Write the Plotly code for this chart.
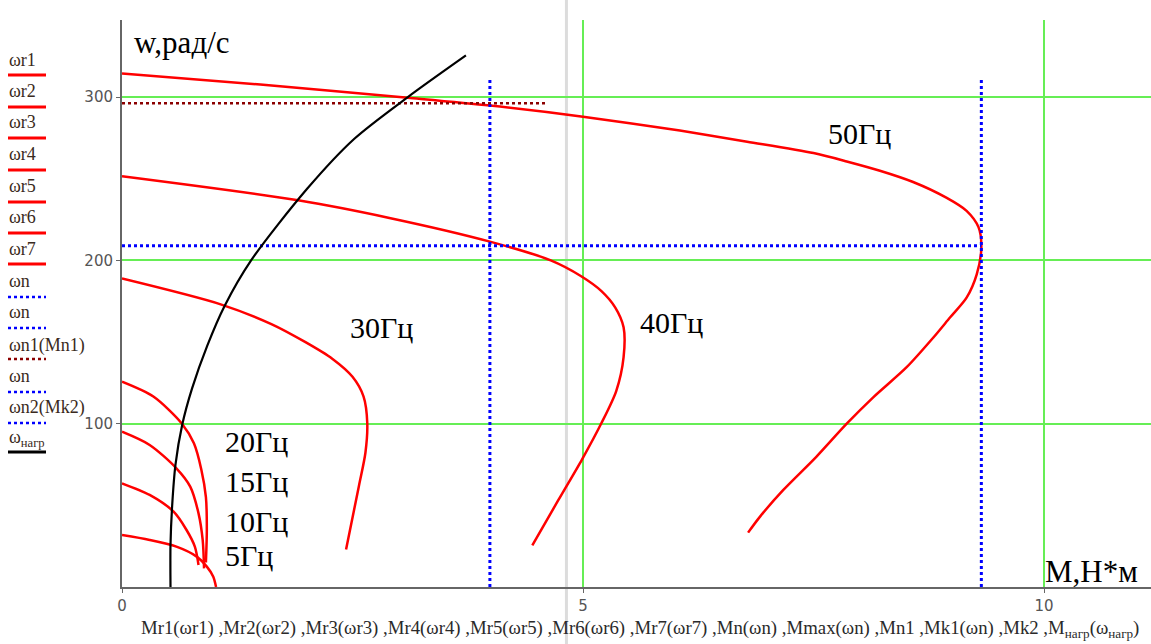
import plotly.graph_objects as go

# Mechanical characteristics M(w) of the motor at different supply frequencies
M_5 = [0, 0.30, 0.59, 0.81, 0.92, 0.99, 1.02]
w_5 = [31.8, 28.8, 24.7, 18.6, 12.5, 6.3, 0]

M_10 = [0, 0.30, 0.56, 0.70, 0.79, 0.83]
w_10 = [63.5, 56.4, 46.1, 34.9, 24.7, 13.5]

M_15 = [0, 0.30, 0.59, 0.74, 0.83, 0.875, 0.89]
w_15 = [95.1, 87.0, 72.7, 61.5, 45.1, 28.8, 11.4]

M_20 = [0, 0.34, 0.65, 0.78, 0.86, 0.91, 0.92, 0.91]
w_20 = [125.7, 116.6, 100.0, 88.0, 72.0, 55.0, 35.0, 15.0]

M_30 = [0, 1.07, 1.62, 1.99, 2.28, 2.50, 2.62, 2.66, 2.64, 2.57, 2.43]
w_30 = [188.9, 173.1, 161.0, 149.9, 139.8, 128.7, 116.6, 100.4, 82.2, 62.0, 23.0]

M_40 = [0, 1.91, 2.90, 3.99, 4.65, 4.98, 5.20, 5.35, 5.44, 5.44,
        5.36, 5.20, 4.99, 4.73, 4.45]
w_40 = [251.5, 236.8, 226.0, 211.5, 200.0, 190.3, 181.2, 171.1,
        159.0, 140.8, 120.0, 100.4, 78.2, 53.0, 25.5]

M_50 = [0, 1.5, 3.1, 3.99, 5.0, 6.05, 6.78, 7.5, 7.86, 8.22,
        8.58, 8.94, 9.16, 9.29, 9.32, 9.27, 9.16, 8.98, 8.80, 8.51, 8.15, 7.86,
        7.53, 7.17, 6.92, 6.79]
w_50 = [314.5, 307.7, 299.6, 294.8, 288.0, 279.5, 272.7, 265.7, 260.6, 254.9,
        248.0, 238.4, 230.3, 220.2, 208.0, 191.5, 177.2, 165.0, 152.8, 134.6,
        116.3, 100.0, 79.7, 59.3, 43.1, 33.3]

# Load characteristic M_нагр(w_нагр)
M_load = [0.526, 0.526, 0.544, 0.58, 0.653, 0.76, 0.925, 1.11, 1.40,
          2.01, 2.52, 3.10, 3.73]
w_load = [0, 25.8, 49.8, 74.9, 99.3, 121.6, 147.8, 171.8, 200.0,
          244.0, 274.5, 300.0, 325.5]

# Reference levels
Mn = 3.99          # rated torque
Mmax = 9.32        # critical (maximum) torque
wn_top = 312       # upper end of the vertical marker lines
wn1, Mn1 = 296.2, 4.62
wn2, Mk2 = 209.0, 9.32
M_cursor = 4.82

freq_labels = ["5Гц", "10Гц", "15Гц", "20Гц", "30Гц", "40Гц", "50Гц"]
freq_label_pos = [(1.10, 19.0), (1.10, 40.4), (1.10, 64.9), (1.10, 89.4),
                  (2.45, 159.0), (5.60, 162.0), (7.64, 278.0)]

legend_items = ["ωr1", "ωr2", "ωr3", "ωr4", "ωr5", "ωr6", "ωr7",
                "ωn", "ωn", "ωn1(Mn1)", "ωn", "ωn2(Mk2)", "ω<sub>нагр</sub>"]

X_MAX, Y_MAX = 11.16, 347.2
W, H = 1151, 644
ML, MR, MT, MB = 122, 0, 20, 57

RED = "#ff0000"
BLUE = "#0000ff"
MAROON = "#8b0000"
GREEN = "#66ee55"
SERIF = "Liberation Serif, Times New Roman, serif"

fig = go.Figure()

curves = [(M_5, w_5), (M_10, w_10), (M_15, w_15), (M_20, w_20),
          (M_30, w_30), (M_40, w_40), (M_50, w_50)]
for (m, w) in curves:
    fig.add_trace(go.Scatter(x=m, y=w, mode="lines",
                             line=dict(color=RED, width=2.5, shape="spline", smoothing=0.8),
                             showlegend=False, hoverinfo="skip"))

# marker lines
fig.add_trace(go.Scatter(x=[Mn, Mn], y=[0, wn_top], mode="lines",
                         line=dict(color=BLUE, width=3, dash="dot"), showlegend=False))
fig.add_trace(go.Scatter(x=[Mmax, Mmax], y=[0, wn_top], mode="lines",
                         line=dict(color=BLUE, width=3, dash="dot"), showlegend=False))
fig.add_trace(go.Scatter(x=[0, Mn1], y=[wn1, wn1], mode="lines",
                         line=dict(color=MAROON, width=2.5, dash="dot"), showlegend=False))
fig.add_trace(go.Scatter(x=[0, Mk2], y=[wn2, wn2], mode="lines",
                         line=dict(color=BLUE, width=3, dash="dot"), showlegend=False))

fig.add_trace(go.Scatter(x=M_load, y=w_load, mode="lines",
                         line=dict(color="#000000", width=2.2, shape="spline", smoothing=0.8),
                         showlegend=False))


def px_x(px):
    return (px - ML) / (W - ML - MR)


def px_y(py):
    return (H - MB - py) / (H - MB - MT)


shapes = []
annotations = []

# light vertical cursor line crossing the whole picture
shapes.append(dict(type="line", xref="paper", yref="paper",
                   x0=M_cursor / X_MAX, x1=M_cursor / X_MAX, y0=px_y(H), y1=px_y(0),
                   line=dict(color="#dcdcdc", width=3), layer="below"))

# trace list on the left
label_py = [60, 91, 122, 154, 186, 217, 249, 281, 312, 345, 376, 407, 438]
line_py = [75, 107, 138, 170, 202, 233, 264, 297, 328, 359, 392, 423, 452]
styles = ([dict(color=RED, width=3)] * 7 +
          [dict(color=BLUE, width=2.5, dash="dot")] * 2 +
          [dict(color=MAROON, width=2.5, dash="dot")] +
          [dict(color=BLUE, width=2.5, dash="dot")] * 2 +
          [dict(color="#000000", width=3)])
for name, ly, sy, st in zip(legend_items, label_py, line_py, styles):
    annotations.append(dict(xref="paper", yref="paper", x=px_x(7), y=px_y(ly),
                            xanchor="left", yanchor="middle", showarrow=False,
                            text=name, font=dict(family=SERIF, size=18, color="#3a2a20")))
    shapes.append(dict(type="line", xref="paper", yref="paper",
                       x0=px_x(8), x1=px_x(46), y0=px_y(sy), y1=px_y(sy), line=st))

for txt, (mx, wy) in zip(freq_labels, freq_label_pos):
    annotations.append(dict(x=mx, y=wy, xref="x", yref="y", xanchor="left", yanchor="middle",
                            showarrow=False, text=txt,
                            font=dict(family=SERIF, size=30, color="#000000")))

annotations.append(dict(xref="paper", yref="paper", x=px_x(132), y=px_y(42),
                        xanchor="left", yanchor="middle", showarrow=False, text="w,рад/с",
                        font=dict(family=SERIF, size=31, color="#000000")))
annotations.append(dict(xref="paper", yref="paper", x=px_x(1043), y=px_y(571),
                        xanchor="left", yanchor="middle", showarrow=False, text="M,Н*м",
                        font=dict(family=SERIF, size=31, color="#000000")))

bottom = ("Mr1(ωr1) ,Mr2(ωr2) ,Mr3(ωr3) ,Mr4(ωr4) ,Mr5(ωr5) ,Mr6(ωr6) ,Mr7(ωr7) ,"
          "Mn(ωn) ,Mmax(ωn) ,Mn1 ,Mk1(ωn) ,Mk2 ,M<sub>нагр</sub>(ω<sub>нагр</sub>)")
annotations.append(dict(xref="paper", yref="paper", x=px_x(640), y=px_y(629),
                        xanchor="center", yanchor="middle", showarrow=False, text=bottom,
                        font=dict(family=SERIF, size=18.8, color="#2a2a2a")))

axis_common = dict(showline=True, linecolor="#666666", linewidth=2,
                   ticks="outside", ticklen=4, tickcolor="#666666",
                   showgrid=True, gridcolor=GREEN, gridwidth=2, zeroline=False,
                   tickfont=dict(family="DejaVu Sans, sans-serif", size=15, color="#555555"))

fig.update_layout(
    width=W, height=H,
    margin=dict(l=ML, r=MR, t=MT, b=MB),
    paper_bgcolor="white", plot_bgcolor="white",
    xaxis=dict(range=[0, X_MAX], tickvals=[0, 5, 10], **axis_common),
    yaxis=dict(range=[0, Y_MAX], tickvals=[100, 200, 300], **axis_common),
    shapes=shapes, annotations=annotations,
    showlegend=False,
)

fig.write_html("out.html")
